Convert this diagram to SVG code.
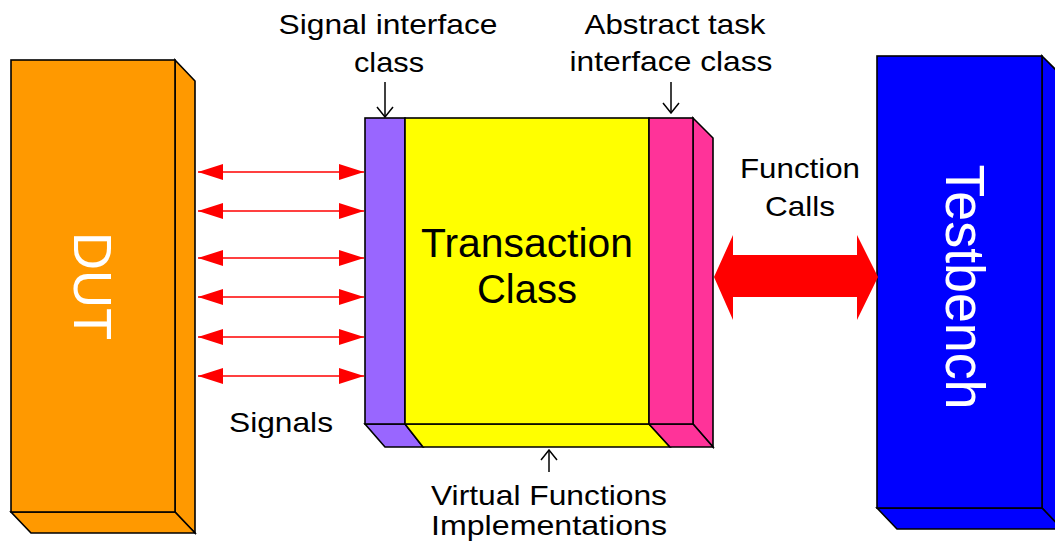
<svg xmlns="http://www.w3.org/2000/svg" width="1055" height="548" viewBox="0 0 1055 548">
<defs>
<style>
.box{stroke:#000;stroke-width:1.6;stroke-linejoin:miter}
.lbl{font-family:"Liberation Sans",Arial,sans-serif;font-size:28px;fill:#000;text-anchor:middle}
.big{font-family:"Liberation Sans",Arial,sans-serif;font-size:40px;fill:#000;text-anchor:middle}
.vert{font-family:"Liberation Sans",Arial,sans-serif;fill:#fff;text-anchor:middle}
.sig{stroke:#f00;stroke-width:1.6;fill:none}
.ann{stroke:#000;stroke-width:1.5;fill:none}
</style>
<marker id="rh" viewBox="0 0 25 16" refX="25" refY="8" markerWidth="25" markerHeight="16" markerUnits="userSpaceOnUse" orient="auto-start-reverse">
<path d="M0,0 L25,8 L0,16 Z" fill="#f00"/>
</marker>
<marker id="oh" viewBox="-1 -1 12 18" refX="10" refY="8" markerWidth="12" markerHeight="18" markerUnits="userSpaceOnUse" orient="auto">
<path d="M0,0 L10,8 L0,16" fill="none" stroke="#000" stroke-width="1.5"/>
</marker>
</defs>
<rect width="1055" height="548" fill="#fff"/>

<g id="dut">
<polygon class="box" fill="#FF9900" points="175,60 195,81 195,533 175,512"/>
<polygon class="box" fill="#FF9900" points="11,512 175,512 195,533 31,533"/>
<rect class="box" fill="#FF9900" x="11" y="60" width="164" height="452"/>
<text class="vert" font-size="54" transform="translate(74,286) rotate(90)" textLength="108" lengthAdjust="spacingAndGlyphs">DUT</text>
</g>

<g id="transaction">
<polygon class="box" fill="#FF3399" points="693,118 713,138 713,447 693,424"/>
<polygon class="box" fill="#9966FF" points="365,424 405,424 423,447 385,447"/>
<polygon class="box" fill="#FFFF00" points="405,424 649,424 670,447 423,447"/>
<polygon class="box" fill="#FF3399" points="649,424 693,424 713,447 670,447"/>
<rect class="box" fill="#9966FF" x="365" y="118" width="40" height="306"/>
<rect class="box" fill="#FFFF00" x="405" y="118" width="244" height="306"/>
<rect class="box" fill="#FF3399" x="649" y="118" width="44" height="306"/>
<text class="big" x="527" y="257" textLength="212" lengthAdjust="spacingAndGlyphs">Transaction</text>
<text class="big" x="527" y="303">Class</text>
</g>

<g id="testbench">
<polygon class="box" fill="#0000FF" points="1042,56 1062,76 1062,529 1042,508"/>
<polygon class="box" fill="#0000FF" points="877,508 1042,508 1062,529 897,529"/>
<rect class="box" fill="#0000FF" x="877" y="56" width="165" height="452"/>
<text class="vert" font-size="56" transform="translate(946,287) rotate(90)" textLength="245" lengthAdjust="spacingAndGlyphs">Testbench</text>
</g>

<g id="connectors">
<line class="sig" x1="198" y1="172" x2="364" y2="172" marker-start="url(#rh)" marker-end="url(#rh)"/>
<line class="sig" x1="198" y1="211" x2="364" y2="211" marker-start="url(#rh)" marker-end="url(#rh)"/>
<line class="sig" x1="198" y1="258" x2="364" y2="258" marker-start="url(#rh)" marker-end="url(#rh)"/>
<line class="sig" x1="198" y1="297" x2="364" y2="297" marker-start="url(#rh)" marker-end="url(#rh)"/>
<line class="sig" x1="198" y1="337" x2="364" y2="337" marker-start="url(#rh)" marker-end="url(#rh)"/>
<line class="sig" x1="198" y1="376" x2="364" y2="376" marker-start="url(#rh)" marker-end="url(#rh)"/>
<polygon fill="#f00" points="714,277 733,235 733,255 857,255 857,235 878,277 857,320 857,297 733,297 733,320"/>
<line class="ann" x1="385" y1="82" x2="385" y2="117" marker-end="url(#oh)"/>
<line class="ann" x1="671" y1="82" x2="671" y2="113" marker-end="url(#oh)"/>
<line class="ann" x1="549" y1="472" x2="549" y2="450" marker-end="url(#oh)"/>
</g>

<g id="labels">
<text class="lbl" x="388" y="34" textLength="219" lengthAdjust="spacingAndGlyphs">Signal interface</text>
<text class="lbl" x="389" y="72" textLength="70" lengthAdjust="spacingAndGlyphs">class</text>
<text class="lbl" x="675" y="34" textLength="181" lengthAdjust="spacingAndGlyphs">Abstract task</text>
<text class="lbl" x="671" y="71" textLength="203" lengthAdjust="spacingAndGlyphs">interface class</text>
<text class="lbl" x="800" y="178" textLength="120" lengthAdjust="spacingAndGlyphs">Function</text>
<text class="lbl" x="800" y="216" textLength="70" lengthAdjust="spacingAndGlyphs">Calls</text>
<text class="lbl" x="281" y="432" textLength="104" lengthAdjust="spacingAndGlyphs">Signals</text>
<text class="lbl" x="549" y="505" textLength="236" lengthAdjust="spacingAndGlyphs">Virtual Functions</text>
<text class="lbl" x="549" y="535" textLength="236" lengthAdjust="spacingAndGlyphs">Implementations</text>
</g>
</svg>
